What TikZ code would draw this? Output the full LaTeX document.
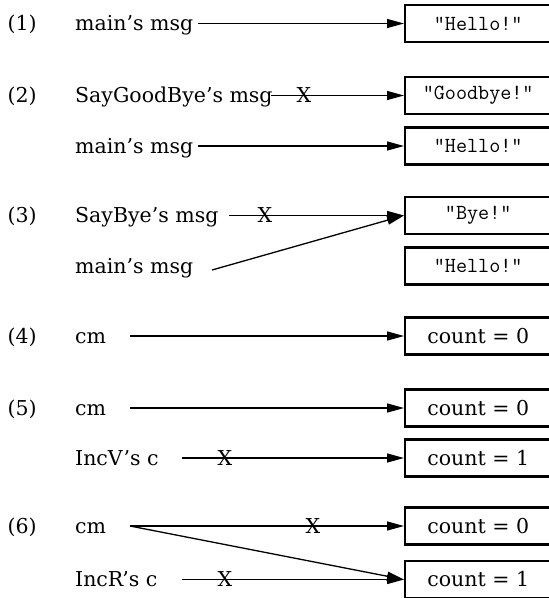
\documentclass[tikz,border=0pt]{standalone}
\usepackage{fontspec}
\setmainfont{DejaVu Serif}
\usetikzlibrary{arrows.meta}

\tikzstyle{num} = [anchor = base west, inner sep = 0pt]
\tikzstyle{var} = [anchor = base west, inner sep = 0pt]
\tikzstyle{box} = [anchor = west, draw = black, line width = 2.4pt, minimum width = 146pt, minimum height = 37pt, inner sep = 0pt]
\tikzstyle{str} = [font = \fontsize{21.5}{24}\selectfont\ttfamily]
\tikzstyle{ptr} = [line width = 1.3pt, -{Triangle[length = 17pt, width = 9pt]}]
\tikzstyle{gone} = [inner sep = 0pt]

\begin{document}
\begin{tikzpicture}[x = 1pt, y = -1pt, font = \fontsize{20.5}{24}\selectfont]
    \useasboundingbox (0,0) rectangle (549,598);

    % (1)
    \node [num] (n1) at (7.5,30.5) {(1)};
    \node [var] (v1) at (75,30.5) {main's msg};
    \node [box, str] (b1) at (404,23.5) {"Hello!”};
    \coordinate (s1) at (198,23.5);
    \draw [ptr] (s1) -- (b1.west);

    % (2)
    \node [num] (n2) at (7.5,102.5) {(2)};
    \node [var] (v2a) at (75,102.5) {SayGoodBye's msg};
    \node [var] (v2b) at (75,153) {main's msg};
    \node [box, str] (b2a) at (404,95.5) {"Goodbye!”};
    \node [box, str] (b2b) at (404,146) {"Hello!”};
    \coordinate (s2a) at (271,95.5);
    \coordinate (s2b) at (198,146);
    \draw [ptr] (s2a) -- (b2a.west);
    \draw [ptr] (s2b) -- (b2b.west);
    \node [gone] (x2a) at (304,95.5) {X};

    % (3)
    \node [num] (n3) at (7.5,222.5) {(3)};
    \node [var] (v3a) at (75,222.5) {SayBye's msg};
    \node [var] (v3b) at (75,273) {main's msg};
    \node [box, str] (b3a) at (404,215.5) {"Bye!”};
    \node [box, str] (b3b) at (404,266) {"Hello!”};
    \coordinate (s3a) at (229,215.5);
    \coordinate (s3b) at (212,270);
    \draw [ptr] (s3a) -- (b3a.west);
    \draw [ptr] (s3b) -- (b3a.west);
    \node [gone] (x3a) at (265,215.5) {X};

    % (4)
    \node [num] (n4) at (7.5,343) {(4)};
    \node [var] (v4) at (75,343) {cm};
    \node [box] (b4) at (404,336) {count = 0};
    \coordinate (s4) at (130,336);
    \draw [ptr] (s4) -- (b4.west);

    % (5)
    \node [num] (n5) at (7.5,415) {(5)};
    \node [var] (v5a) at (75,415) {cm};
    \node [var] (v5b) at (75,465) {IncV's c};
    \node [box] (b5a) at (404,408) {count = 0};
    \node [box] (b5b) at (404,458) {count = 1};
    \coordinate (s5a) at (130,408);
    \coordinate (s5b) at (182,458);
    \draw [ptr] (s5a) -- (b5a.west);
    \draw [ptr] (s5b) -- (b5b.west);
    \node [gone] (x5b) at (225,458) {X};

    % (6)
    \node [num] (n6) at (7.5,533) {(6)};
    \node [var] (v6a) at (75,533) {cm};
    \node [var] (v6b) at (75,586.5) {IncR's c};
    \node [box] (b6a) at (404,526) {count = 0};
    \node [box] (b6b) at (404,579.5) {count = 1};
    \coordinate (s6a) at (130,526);
    \coordinate (s6b) at (182,579.5);
    \draw [ptr] (s6a) -- (b6a.west);
    \draw [ptr] (s6a) -- (b6b.west);
    \draw [ptr] (s6b) -- (b6b.west);
    \node [gone] (x6a) at (313,526) {X};
    \node [gone] (x6b) at (225,579.5) {X};
\end{tikzpicture}
\end{document}
